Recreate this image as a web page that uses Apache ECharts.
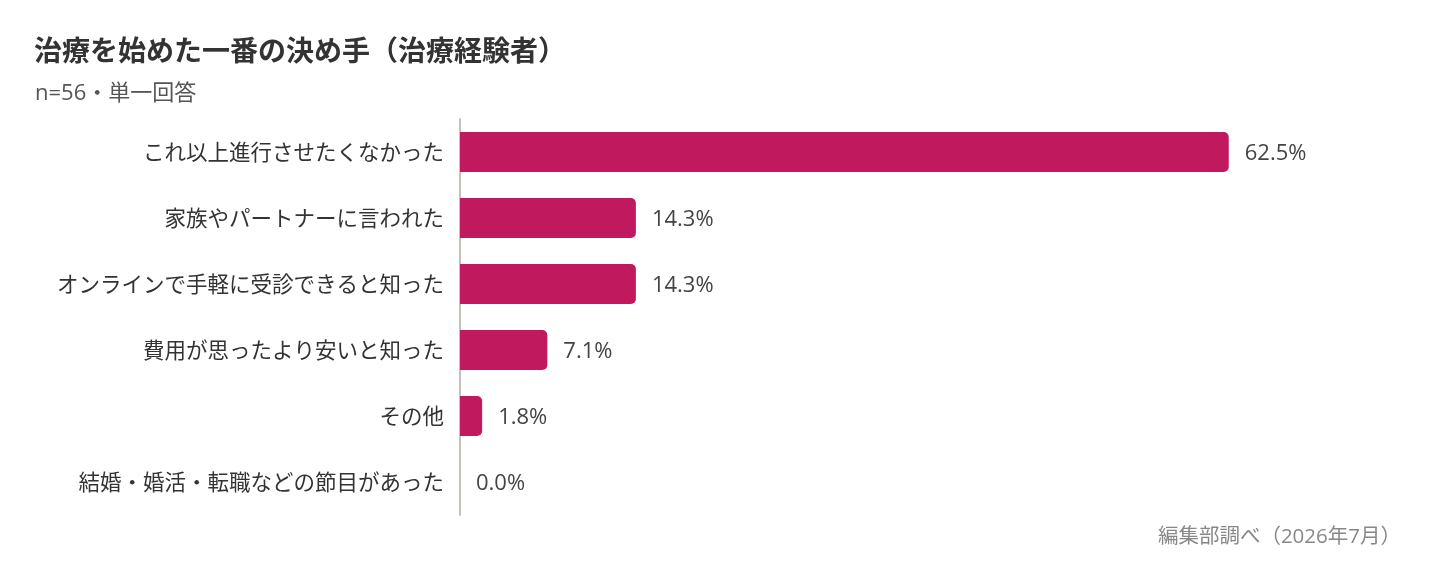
<!DOCTYPE html>
<html><head><meta charset="utf-8">
<script src="https://cdn.jsdelivr.net/npm/echarts@6/dist/echarts.min.js"></script>
<style>html,body{margin:0;padding:0;background:#fff}#c{width:1440px;height:570px}</style>
</head><body><div id="c"></div>
<script>
const categories = ["これ以上進行させたくなかった","家族やパートナーに言われた","オンラインで手軽に受診できると知った","費用が思ったより安いと知った","その他","結婚・婚活・転職などの節目があった"];
const values = [62.5, 14.3, 14.3, 7.1, 1.8, 0.0];
const titleText = "治療を始めた一番の決め手（治療経験者）";
const subtitleText = "n=56・単一回答";
const sourceText = "編集部調べ（2026年7月）";
const FONT = '"Noto Sans CJK JP","Noto Sans",sans-serif';
const FONT_L = '"Open Sans","Noto Sans CJK JP",sans-serif';
const chart = echarts.init(document.getElementById('c'));
chart.setOption({
  backgroundColor:'#fff',
  animation:false,
  title:[
    {text:titleText,left:29,top:31,textStyle:{fontFamily:FONT,fontSize:28,fontWeight:'bold',color:'#333'}},
    {text:subtitleText,left:30,top:78,textStyle:{fontFamily:FONT_L,fontSize:22,fontWeight:'normal',color:'#555'}},
    {text:sourceText,right:34,top:522,textStyle:{fontFamily:FONT_L,fontSize:20.5,fontWeight:'normal',color:'#888'}}
  ],
  grid:{left:460,right:119,top:119,bottom:55,containLabel:false},
  xAxis:{type:'value',min:0,max:70,show:false},
  yAxis:{type:'category',data:categories,inverse:true,
    axisLine:{show:true,lineStyle:{color:'#c4c2b8',width:2}},
    axisTick:{show:false},
    axisLabel:{fontFamily:FONT,fontSize:21.5,color:'#333',margin:16}},
  series:[{type:'bar',data:values,barWidth:40,
    itemStyle:{color:'#C0195E',borderRadius:[0,5,5,0]},
    label:{show:true,position:'right',distance:16,offset:[0,2],fontFamily:FONT_L,fontSize:22,color:'#444',
      formatter:p=>p.value.toFixed(1)+'%'}}]
});
</script></body></html>
